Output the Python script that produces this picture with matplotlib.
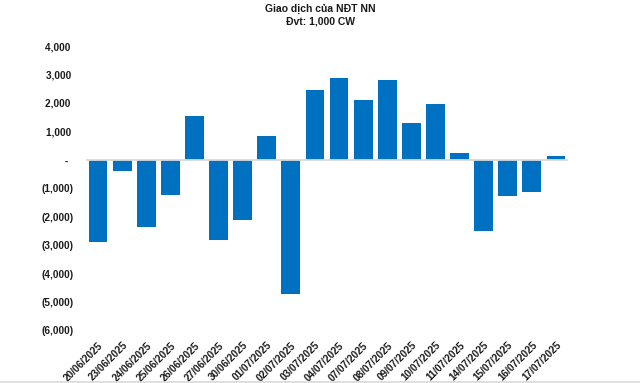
import matplotlib
matplotlib.use("Agg")
import matplotlib.pyplot as plt
from matplotlib.lines import Line2D
from matplotlib.ticker import FuncFormatter

dates = ["20/06/2025", "23/06/2025", "24/06/2025", "25/06/2025", "26/06/2025",
         "27/06/2025", "30/06/2025", "01/07/2025", "02/07/2025", "03/07/2025",
         "04/07/2025", "07/07/2025", "08/07/2025", "09/07/2025", "10/07/2025",
         "11/07/2025", "14/07/2025", "15/07/2025", "16/07/2025", "17/07/2025"]
values = [-2880, -410, -2360, -1250, 1550,
          -2810, -2100, 845, -4700, 2460,
          2885, 2110, 2815, 1300, 1970,
          250, -2500, -1255, -1125, 140]
yticks = [4000, 3000, 2000, 1000, 0, -1000, -2000, -3000, -4000, -5000, -6000]
title_line1 = "Giao dịch của NĐT NN"
title_line2 = "Đvt: 1,000 CW"

plt.rcParams['font.family'] = ['Liberation Sans', 'DejaVu Sans']

fig = plt.figure(figsize=(6.4, 3.83), dpi=100)
ax = fig.add_axes([86/640, 1-330.5/383, (568-86)/640, (330.5-46)/383])

x = list(range(len(dates)))
ax.bar(x, values, width=0.78, color="#0070C0", zorder=2)
ax.axhline(0, color="#D9D9D9", lw=1.3, zorder=3)

ax.set_xlim(-0.5, len(dates) - 0.5)
ax.set_ylim(-6000, 4000)
ax.set_yticks(yticks)

def fmt(v, pos):
    v = int(round(v))
    if v == 0:
        return "-  "
    if v < 0:
        return "({:,})".format(-v)
    return "{:,} ".format(v)

ax.yaxis.set_major_formatter(FuncFormatter(fmt))
ax.set_xticks(x)
ax.set_xticklabels(dates, rotation=45, ha="right", va="top", rotation_mode="anchor")
for lab in ax.get_xticklabels() + ax.get_yticklabels():
    lab.set_fontweight("bold")
    lab.set_fontsize(7.2)
    lab.set_color("#1a1a1a")
ax.tick_params(axis="both", length=0)
ax.tick_params(axis="y", pad=9)
ax.tick_params(axis="x", pad=7)
for s in ax.spines.values():
    s.set_visible(False)

fig.text(0.5, 1 - 9/383, title_line1, ha="center", va="center", fontsize=7.5,
         fontweight="bold", color="#1a1a1a")
fig.text(0.5, 1 - 21/383, title_line2, ha="center", va="center", fontsize=7.5,
         fontweight="bold", color="#1a1a1a")
fig.add_artist(Line2D([0, 1], [1.5/383, 1.5/383], color="#D9D9D9", lw=1.2,
                      transform=fig.transFigure))
fig.savefig("out.png", dpi=100, facecolor="white")
